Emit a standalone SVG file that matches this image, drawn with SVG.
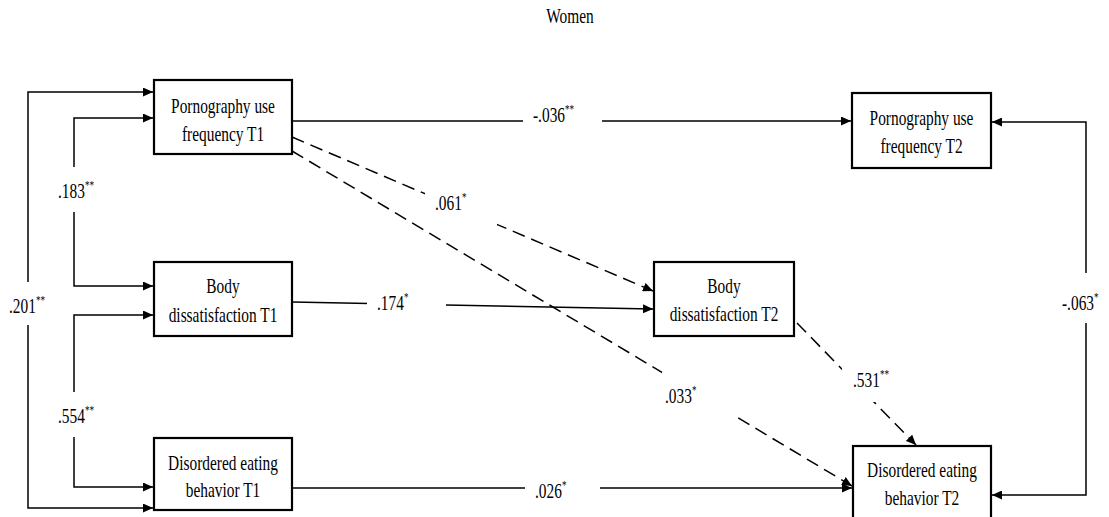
<svg xmlns="http://www.w3.org/2000/svg" width="1109" height="517" viewBox="0 0 1109 517">
<style>
.box{fill:#fff;stroke:#000;stroke-width:2.2}
.t{font-family:"Liberation Serif","Times New Roman",serif;font-size:22px;fill:#000}
.mid{text-anchor:middle}
.ln{fill:none;stroke:#000;stroke-width:1.5}
.dash{stroke-dasharray:13,7}
.bg{fill:#fff;stroke:none}
.sup{font-size:13px}
</style>
<defs>
<marker id="ah" markerUnits="userSpaceOnUse" markerWidth="11" markerHeight="9" refX="10" refY="4.5" orient="auto-start-reverse">
<path d="M0,0 L10,4.5 L0,9 z" fill="#000"/>
</marker>
</defs>
<rect width="1109" height="517" fill="#fff"/>
<text class="t mid" transform="translate(570,23) scale(0.7,1)">Women</text>

<g id="connectors">
<path class="ln" d="M153,92 L28,92 L28,508 L153,508" marker-start="url(#ah)" marker-end="url(#ah)"/>
<path class="ln" d="M153,118 L74,118 L74,286 L153,286" marker-start="url(#ah)" marker-end="url(#ah)"/>
<path class="ln" d="M153,315 L74,315 L74,487 L153,487" marker-start="url(#ah)" marker-end="url(#ah)"/>
<path class="ln" d="M292,121 L851,121" marker-end="url(#ah)"/>
<path class="ln dash" d="M292,137 L653,291" marker-end="url(#ah)"/>
<path class="ln dash" d="M292,151 L852,486" marker-end="url(#ah)"/>
<path class="ln" d="M292,302 L653,309" marker-end="url(#ah)"/>
<path class="ln dash" d="M797,323 L916,445" marker-end="url(#ah)"/>
<path class="ln" d="M292,488 L852,488" marker-end="url(#ah)"/>
<path class="ln" d="M992,122 L1086,122 L1086,495 L992,495" marker-start="url(#ah)" marker-end="url(#ah)"/>

<rect class="bg" x="6" y="282" width="48" height="43"/>
<rect class="bg" x="54" y="167" width="48" height="45"/>
<rect class="bg" x="54" y="392" width="48" height="45"/>
<rect class="bg" x="523" y="104" width="79" height="30"/>
<rect class="bg" x="425" y="190" width="72" height="35"/>
<rect class="bg" x="662" y="372" width="71" height="44"/>
<rect class="bg" x="367" y="290" width="79" height="30"/>
<rect class="bg" x="842" y="368" width="56" height="34"/>
<rect class="bg" x="525" y="476" width="75" height="28"/>
<rect class="bg" x="1058" y="273" width="50" height="50"/>

<text class="t" transform="translate(9,313) scale(0.7,1)">.201<tspan class="sup" dy="-9">**</tspan></text>
<text class="t" transform="translate(58,198) scale(0.7,1)">.183<tspan class="sup" dy="-9">**</tspan></text>
<text class="t" transform="translate(58,423) scale(0.7,1)">.554<tspan class="sup" dy="-9">**</tspan></text>
<text class="t" transform="translate(533,122) scale(0.7,1)">-.036<tspan class="sup" dy="-9">**</tspan></text>
<text class="t" transform="translate(435,210) scale(0.7,1)">.061<tspan class="sup" dy="-9">*</tspan></text>
<text class="t" transform="translate(377,310) scale(0.7,1)">.174<tspan class="sup" dy="-9">*</tspan></text>
<text class="t" transform="translate(665,403) scale(0.7,1)">.033<tspan class="sup" dy="-9">*</tspan></text>
<text class="t" transform="translate(853,387) scale(0.7,1)">.531<tspan class="sup" dy="-9">**</tspan></text>
<text class="t" transform="translate(535,498) scale(0.7,1)">.026<tspan class="sup" dy="-9">*</tspan></text>
<text class="t" transform="translate(1062,310) scale(0.7,1)">-.063<tspan class="sup" dy="-9">*</tspan></text>
</g>

<g id="puf-t1">
<rect class="box" x="154" y="80" width="138" height="74"/>
<text class="t mid" transform="translate(223,113) scale(0.7,1)">Pornography use</text>
<text class="t mid" transform="translate(223,141) scale(0.7,1)">frequency T1</text>
</g>
<g id="body-t1">
<rect class="box" x="154" y="262" width="138" height="74"/>
<text class="t mid" transform="translate(223,293) scale(0.7,1)">Body</text>
<text class="t mid" transform="translate(223,322) scale(0.7,1)">dissatisfaction T1</text>
</g>
<g id="deb-t1">
<rect class="box" x="154" y="438" width="138" height="72"/>
<text class="t mid" transform="translate(223,470) scale(0.7,1)">Disordered eating</text>
<text class="t mid" transform="translate(223,497) scale(0.7,1)">behavior T1</text>
</g>
<g id="puf-t2">
<rect class="box" x="852" y="93" width="139" height="75"/>
<text class="t mid" transform="translate(921.5,125) scale(0.7,1)">Pornography use</text>
<text class="t mid" transform="translate(921.5,153) scale(0.7,1)">frequency T2</text>
</g>
<g id="body-t2">
<rect class="box" x="654" y="262" width="140" height="74"/>
<text class="t mid" transform="translate(724,293) scale(0.7,1)">Body</text>
<text class="t mid" transform="translate(724,321) scale(0.7,1)">dissatisfaction T2</text>
</g>
<g id="deb-t2">
<rect class="box" x="853" y="446" width="138" height="74"/>
<text class="t mid" transform="translate(922,477) scale(0.7,1)">Disordered eating</text>
<text class="t mid" transform="translate(922,505) scale(0.7,1)">behavior T2</text>
</g>
</svg>
